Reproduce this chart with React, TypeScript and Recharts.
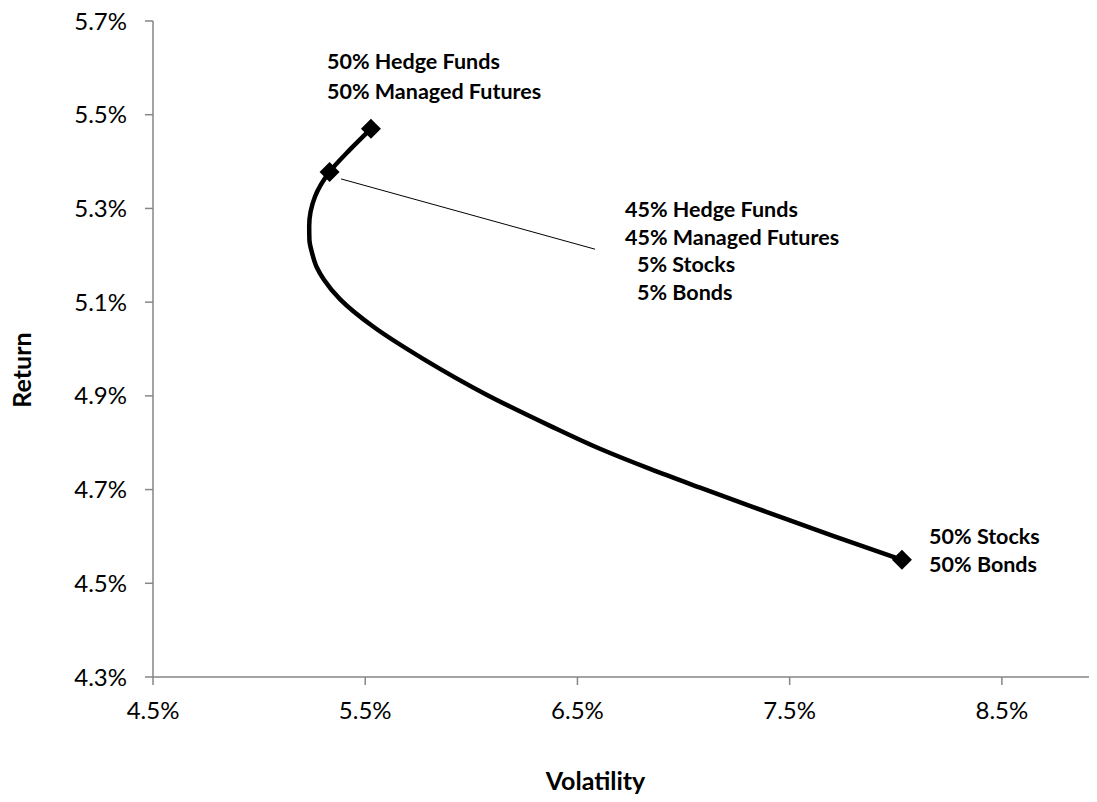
import React from 'react';
import { ComposedChart, Line, XAxis, YAxis, ReferenceDot, ReferenceLine } from 'recharts';

// Efficient frontier: volatility (%) and return (%) from 50/50 HF+MF to 50/50 Stocks+Bonds
const volatility = [5.527, 5.429, 5.332, 5.264, 5.236, 5.237, 5.249, 5.271, 5.304, 5.382, 5.537, 5.773, 6.074, 6.371, 6.606, 6.842, 7.078, 7.393, 7.704, 8.029];
const returns = [5.470, 5.426, 5.378, 5.326, 5.262, 5.233, 5.206, 5.175, 5.149, 5.106, 5.048, 4.979, 4.902, 4.836, 4.787, 4.744, 4.704, 4.652, 4.601, 4.550];
const markerIndexes = [0, 2, 19];

const xTicks = [4.5, 5.5, 6.5, 7.5, 8.5];
const yTicks = [4.3, 4.5, 4.7, 4.9, 5.1, 5.3, 5.5, 5.7];

const label1Lines = ['50% Hedge Funds', '50% Managed Futures'];
const label1Pos = { x: 5.320, y: 5.598 };
const label2Lines = ['45% Hedge Funds', '45% Managed Futures', '5% Stocks', '5% Bonds'];
const label2Indent = [0, 0, 12, 12];
const label2Pos = { x: 6.724, y: 5.281 };
const label3Lines = ['50% Stocks', '50% Bonds'];
const label3Pos = { x: 8.157, y: 4.583 };
const leader = [{ x: 5.386, y: 5.363 }, { x: 6.583, y: 5.213 }];

const data = volatility.map((v, i) => ({ x: v, y: returns[i], marker: markerIndexes.includes(i) }));

const FONT = 'Lato, "Open Sans", sans-serif';
const AXIS = '#868686';

const makeLabel = (lines: string[], spacing: number, indents?: number[]) => (props: any) => {
  const vb = props.viewBox || {};
  const x0 = (vb.x ?? 0) + (vb.width ?? 0) / 2;
  const y0 = (vb.y ?? 0) + (vb.height ?? 0) / 2;
  return (
    <text fontFamily={FONT} fontWeight="bold" fontSize={21.5} fill="#000">
      {lines.map((t, i) => (
        <tspan key={i} x={x0 + (indents ? indents[i] : 0)} y={y0 + i * spacing}>{t}</tspan>
      ))}
    </text>
  );
};

const Marker = (props: any) => {
  const { cx, cy, payload, index } = props;
  if (!payload || !payload.marker || cx == null || cy == null) return <g key={`d-${index}`} />;
  const h = 10;
  return (
    <polygon
      key={`d-${index}`}
      points={`${cx},${cy - h} ${cx + h},${cy} ${cx},${cy + h} ${cx - h},${cy}`}
      fill="#000"
    />
  );
};

export default function App() {
  return (
    <div style={{ width: 1097, height: 798, overflow: 'hidden', margin: '-8px 0 0 -8px' }}>
      <ComposedChart width={1118} height={798} data={data} margin={{ top: 21, right: 10, bottom: 0, left: 0 }}>
        <XAxis
          type="number"
          dataKey="x"
          domain={[4.5, 9.0]}
          ticks={xTicks}
          tickFormatter={(v: number) => v.toFixed(1) + '%'}
          height={121}
          stroke={AXIS}
          strokeWidth={1.5}
          tickSize={8}
          tickMargin={17}
          tickLine={{ stroke: AXIS, strokeWidth: 1.5 }}
          tick={{ fill: '#000', fontSize: 24, fontFamily: FONT }}
          allowDataOverflow
          label={{ value: 'Volatility', position: 'insideBottom', offset: 8, dx: -35, fill: '#000', fontSize: 25, fontWeight: 'bold', fontFamily: FONT }}
        />
        <YAxis
          type="number"
          dataKey="y"
          domain={[4.3, 5.7]}
          ticks={yTicks}
          tickFormatter={(v: number) => v.toFixed(1) + '%'}
          width={153}
          stroke={AXIS}
          strokeWidth={1.5}
          tickSize={8}
          tickMargin={18}
          tickLine={{ stroke: AXIS, strokeWidth: 1.5 }}
          tick={{ fill: '#000', fontSize: 24, fontFamily: FONT }}
          allowDataOverflow
          label={{
            content: () => (
              <text x={21} y={370} transform="rotate(-90, 21, 370)" textAnchor="middle" dominantBaseline="central" fontFamily={FONT} fontWeight="bold" fontSize={25} fill="#000">Return</text>
            ),
          }}
        />
        <ReferenceLine segment={leader} stroke="#000" strokeWidth={1} ifOverflow="visible" />
        <Line
          type="monotoneY"
          dataKey="y"
          stroke="#000"
          strokeWidth={4.5}
          dot={Marker}
          activeDot={false}
          isAnimationActive={false}
        />
        <ReferenceDot x={label1Pos.x} y={label1Pos.y} r={1} fill="none" stroke="none" label={{ content: makeLabel(label1Lines, 30) }} />
        <ReferenceDot x={label2Pos.x} y={label2Pos.y} r={1} fill="none" stroke="none" label={{ content: makeLabel(label2Lines, 27.5, label2Indent) }} />
        <ReferenceDot x={label3Pos.x} y={label3Pos.y} r={1} fill="none" stroke="none" label={{ content: makeLabel(label3Lines, 28) }} />
      </ComposedChart>
    </div>
  );
}
